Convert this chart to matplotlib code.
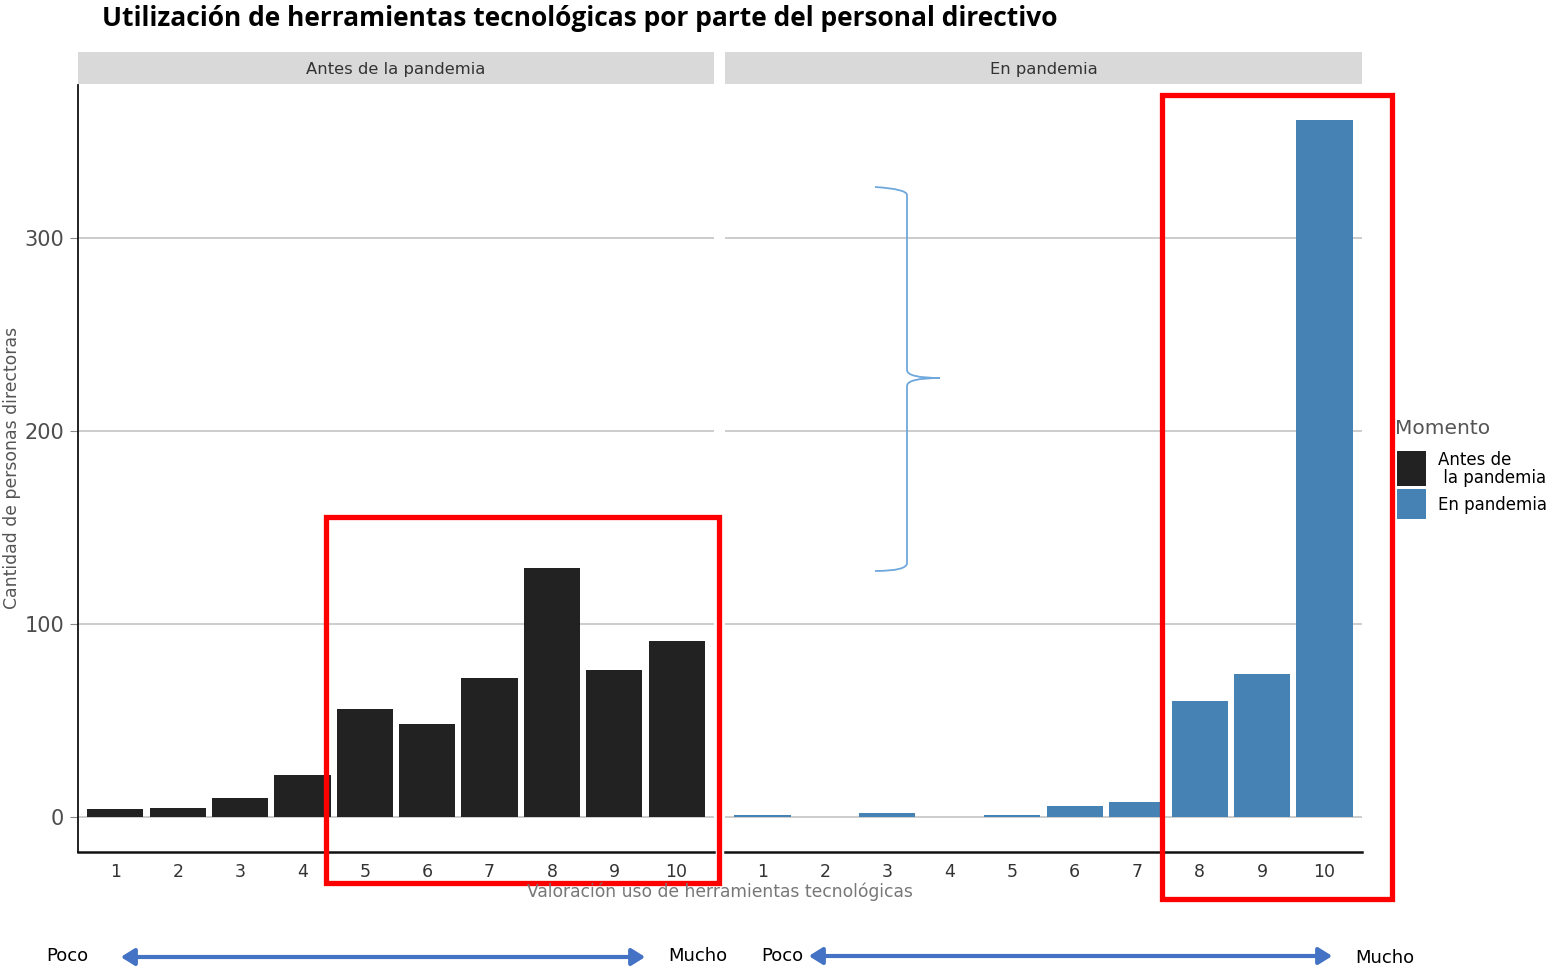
import numpy as np
import matplotlib
matplotlib.use("Agg")
import matplotlib.pyplot as plt
from matplotlib.patches import Rectangle, PathPatch, FancyArrowPatch
from matplotlib.path import Path

# datos
valoracion = [1, 2, 3, 4, 5, 6, 7, 8, 9, 10]
antes = [4, 5, 10, 22, 56, 48, 72, 129, 76, 91]
en_pandemia = [1, 0, 2, 0, 1, 6, 8, 60, 74, 361]
paneles = ["Antes de la pandemia", "En pandemia"]
etiquetas_leyenda = ["Antes de\n la pandemia", "En pandemia"]
colores = ["#222222", "#4682B4"]
yticks = [0, 100, 200, 300]

W, H = 1556, 969
fig = plt.figure(figsize=(W / 100, H / 100), dpi=100)


def fx(px):
    return px / W


def fy(py):
    return 1 - py / H


def fp(px, py):
    return (fx(px), fy(py))


ax_bottom = fy(852)
ax_h = fy(85) - ax_bottom
left_x = [78, 725]
right_x = [714, 1362]

for i, serie in enumerate([antes, en_pandemia]):
    ax = fig.add_axes([fx(left_x[i]), ax_bottom, fx(right_x[i]) - fx(left_x[i]), ax_h])
    ax.bar(valoracion, serie, width=0.9, color=colores[i], zorder=3)
    ax.set_xlim(0.4, 10.6)
    ax.set_ylim(-18, 379)
    ax.set_xticks(valoracion)
    ax.set_xticklabels([str(v) for v in valoracion], fontsize=12.5, color="#333333")
    ax.tick_params(axis="x", length=0, pad=8)
    ax.set_yticks(yticks)
    ax.grid(axis="y", color="#c8c8c8", lw=1.3, zorder=0)
    for s in ["top", "right"]:
        ax.spines[s].set_visible(False)
    ax.spines["bottom"].set_linewidth(1.8)
    ax.spines["bottom"].set_color("#111111")
    if i == 0:
        ax.spines["left"].set_linewidth(1.3)
        ax.spines["left"].set_color("#111111")
        ax.set_yticklabels([str(t) for t in yticks], fontsize=15, color="#4d4d4d")
        ax.tick_params(axis="y", length=6, color="#888888", pad=4)
    else:
        ax.spines["left"].set_visible(False)
        ax.tick_params(axis="y", length=0, labelleft=False)

    # franja del panel
    sx = fig.add_axes([fx(left_x[i]), fy(84), fx(right_x[i]) - fx(left_x[i]), fy(52) - fy(84)])
    sx.set_facecolor("#d9d9d9")
    sx.set_xticks([])
    sx.set_yticks([])
    for s in sx.spines.values():
        s.set_visible(False)
    sx.text(0.5, 0.45, paneles[i], ha="center", va="center", fontsize=11.8, color="#333333",
            transform=sx.transAxes)

# títulos
fig.text(fx(102), fy(18), "Utilización de herramientas tecnológicas por parte del personal directivo",
         fontsize=19, fontweight="bold", family="Open Sans", ha="left", va="center")
fig.text(fx(12), fy(468), "Cantidad de personas directoras", rotation=90, fontsize=12.4,
         color="#555555", ha="center", va="center")
fig.text(fx(720), fy(892), "Valoración uso de herramientas tecnológicas", fontsize=12.3,
         color="#777777", ha="center", va="center")

# leyenda
fig.text(fx(1395), fy(428), "Momento", fontsize=14.5, color="#555555", ha="left", va="center")
fig.patches.append(Rectangle(fp(1397, 486), fx(29), fy(451) - fy(486), facecolor=colores[0],
                             transform=fig.transFigure, figure=fig))
fig.patches.append(Rectangle(fp(1397, 519), fx(29), fy(489) - fy(519), facecolor=colores[1],
                             transform=fig.transFigure, figure=fig))
fig.text(fx(1438), fy(469), etiquetas_leyenda[0], fontsize=12, ha="left", va="center",
         linespacing=0.95)
fig.text(fx(1438), fy(505), etiquetas_leyenda[1], fontsize=12, ha="left", va="center")

# recuadros rojos
for (x0, y0, x1, y1) in [(326, 517, 719, 883), (1162, 95, 1392, 899)]:
    fig.patches.append(Rectangle(fp(x0, y1), fx(x1) - fx(x0), fy(y0) - fy(y1), fill=False,
                                 edgecolor="red", lw=3.8, transform=fig.transFigure, figure=fig))

# llave azul
verts = [fp(875, 187), fp(907, 189), fp(907, 195),
         fp(907, 370),
         fp(907, 378), fp(940, 378),
         fp(907, 378), fp(907, 386),
         fp(907, 563),
         fp(907, 571), fp(875, 571)]
codes = [Path.MOVETO, Path.CURVE3, Path.CURVE3,
         Path.LINETO,
         Path.CURVE3, Path.CURVE3,
         Path.CURVE3, Path.CURVE3,
         Path.LINETO,
         Path.CURVE3, Path.CURVE3]
fig.patches.append(PathPatch(Path(verts, codes), fill=False, edgecolor="#6fa8dc", lw=1.3,
                             transform=fig.transFigure, figure=fig))

# flechas Poco / Mucho
for (xa, xb, ya) in [(118, 648, 957), (806, 1335, 956)]:
    fig.patches.append(FancyArrowPatch(
        fp(xa, ya), fp(xb, ya), arrowstyle="<|-|>,head_length=8,head_width=5",
        color="#4472C4", lw=3, transform=fig.transFigure, figure=fig))
for (txt, px, py) in [("Poco", 46, 956), ("Mucho", 668, 956), ("Poco", 761, 956), ("Mucho", 1355, 958)]:
    fig.text(fx(px), fy(py), txt, fontsize=13, family="Liberation Sans Narrow", ha="left", va="center")

fig.savefig("out.png", dpi=100, facecolor="white")
